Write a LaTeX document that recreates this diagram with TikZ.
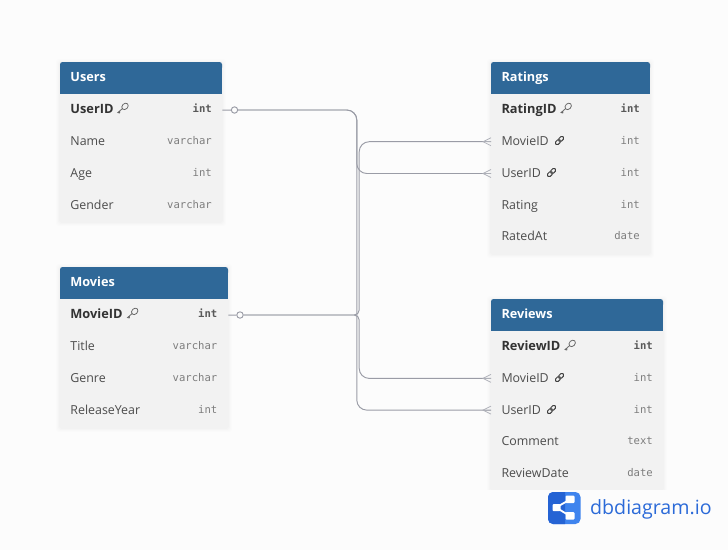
\documentclass[tikz,border=0pt]{standalone}
\usepackage{fontspec}
\setmainfont{Open Sans}
\newfontfamily\typefont{DejaVu Sans Mono}
\newfontfamily\logofont{Open Sans}
\usetikzlibrary{calc}
\definecolor{pagebg}{HTML}{FCFCFC}
\definecolor{headblue}{HTML}{2F6898}
\definecolor{bodygrey}{HTML}{F2F2F2}
\definecolor{linegrey}{HTML}{9A9CA6}
\definecolor{namegrey}{HTML}{4C4C4C}
\definecolor{typegrey}{HTML}{7D7D7D}
\definecolor{logodark}{HTML}{2563D4}
\definecolor{logolight}{HTML}{3F84EE}
\definecolor{logotext}{HTML}{2B6AD8}
\tikzset{
  x=1pt,y=-1pt,
  tablebody/.style={fill=bodygrey,draw=none},
  tablehead/.style={fill=headblue,draw=none},
  rowbox/.style={draw=none,inner sep=0pt,minimum height=31.8pt,anchor=north west},
  headtext/.style={font=\fontsize{12.7}{14}\selectfont\bfseries,text=white,anchor=base west,inner sep=0pt},
  coltext/.style={font=\fontsize{12.4}{14}\selectfont,text=namegrey,anchor=base west,inner sep=0pt},
  pktext/.style={font=\fontsize{12.8}{14}\selectfont\bfseries,text=black!80,anchor=base west,inner sep=0pt},
  typetext/.style={font=\fontsize{10.6}{14}\selectfont\typefont,text=typegrey,anchor=base east,inner sep=0pt},
  pktype/.style={font=\fontsize{10.6}{14}\selectfont\typefont\bfseries,text=black!65,anchor=base east,inner sep=0pt},
  rel/.style={draw=linegrey,line width=0.95pt,rounded corners=10pt},
  relflat/.style={draw=linegrey,line width=0.95pt},
  onemark/.style={circle,draw=linegrey,fill=pagebg,line width=0.95pt,minimum size=6.4pt,inner sep=0pt},
  crow/.style={draw=linegrey!80,line width=0.75pt},
  keyicon/.style={draw=black!60,line width=0.75pt},
  linkicon/.style={draw=black!75,line width=1pt},
}
\newcommand{\tablecard}[5]{%
  \foreach \d/\o in {4/0.006,3/0.008,2/0.010,1/0.012}{%
    \fill[black,opacity=\o,rounded corners=3pt] (#2-\d,#3-\d+1) rectangle (#4+\d,#5+\d+1);}
  \fill[tablebody,rounded corners=2.5pt] (#2,#3) rectangle (#4,#5);
  \fill[tablehead,rounded corners=2.5pt] (#2,#3) rectangle (#4,#3+8);
  \fill[tablehead] (#2,#3+4) rectangle (#4,#3+31.5);
}
\newcommand{\keyglyph}[2]{%
  \begin{scope}[shift={(#1,#2)}]
    \draw[keyicon,rotate around={45:(2.2,-1.6)}] (2.2,-1.6) ellipse (3.6 and 2.8);
    \draw[keyicon] (-0.2,0.4) -- (-5,4.6) -- (-3.2,5) -- (-2.9,3.6);
  \end{scope}}
\newcommand{\linkglyph}[2]{%
  \begin{scope}[shift={(#1,#2)}]
    \draw[linkicon,rotate=45,rounded corners=1.4pt] (-0.6,-1.8) rectangle (5,1.8);
    \draw[linkicon,rotate=45,rounded corners=1.4pt] (-5,-1.8) rectangle (0.6,1.8);
  \end{scope}}
\newcommand{\crowfoot}[1]{%
  \draw[crow] (#1.west) -- ++(-8,0);
  \draw[crow] ($(#1.west)+(0,-4)$) -- ($(#1.west)+(-8,0)$) -- ($(#1.west)+(0,4)$);
}
\begin{document}
\begin{tikzpicture}
\useasboundingbox (0,0) rectangle (728,550);
\fill[pagebg] (0,0) rectangle (728,550);

\coordinate (busA) at (356.8,0);
\coordinate (busB) at (359.2,0);

\tablecard{users}{60}{62}{222}{221}
\tablecard{ratings}{491}{62}{650}{253}
\tablecard{movies}{60}{267}{228}{427}
\tablecard{reviews}{491}{299}{663}{489}
\fill[pagebg] (480,489.5) rectangle (675,500);

\node[rowbox,minimum width=162pt] (uUserID) at (60,94) {};
\node[rowbox,minimum width=159pt] (rRatingID) at (491,94) {};
\node[rowbox,minimum width=159pt] (rMovieID) at (491,125.6) {};
\node[rowbox,minimum width=159pt] (rUserID) at (491,157.4) {};
\node[rowbox,minimum width=168pt] (mMovieID) at (60,299) {};
\node[rowbox,minimum width=172pt] (vReviewID) at (491,331) {};
\node[rowbox,minimum width=172pt] (vMovieID) at (491,362.3) {};
\node[rowbox,minimum width=172pt] (vUserID) at (491,394) {};

\node[onemark] (uOne) at (234.5,110) {};
\node[onemark] (mOne) at (240,315) {};
\draw[relflat] (uUserID.east) -- (uOne);
\draw[relflat] (mMovieID.east) -- (mOne);
\draw[rel] (uOne) -- (uOne -| busA) -- (rUserID.west -| busA) -- (rUserID.west);
\draw[rel] (uOne) -- (uOne -| busA) -- (vUserID.west -| busA) -- (vUserID.west);
\draw[rel] (mOne) [rounded corners=5pt] -- (mOne -| busB) [rounded corners=10pt] -- (rMovieID.west -| busB) -- (rMovieID.west);
\draw[rel] (mOne) [rounded corners=5pt] -- (mOne -| busB) [rounded corners=10pt] -- (vMovieID.west -| busB) -- (vMovieID.west);
\crowfoot{rMovieID}
\crowfoot{rUserID}
\crowfoot{vMovieID}
\crowfoot{vUserID}

% Users
\node[headtext] (tUsers) at (70.2,81) {Users};
\node[pktext] (cUserID) at (70.2,113) {UserID};
\keyglyph{122.8}{108}
\node[pktype] (yUserID) at (212,112.7) {int};
\node[coltext] (cUName) at (70.2,145) {Name};
\node[typetext] (yUName) at (212,144.7) {varchar};
\node[coltext] (cUAge) at (70.2,177) {Age};
\node[typetext] (yUAge) at (212,176.7) {int};
\node[coltext] (cUGender) at (70.2,209) {Gender};
\node[typetext] (yUGender) at (212,208.7) {varchar};

% Movies
\node[headtext] (tMovies) at (70.2,286) {Movies};
\node[pktext] (cMMovieID) at (70.2,318) {MovieID};
\keyglyph{132.5}{313}
\node[pktype] (yMMovieID) at (217.5,317.7) {int};
\node[coltext] (cMTitle) at (70.2,350) {Title};
\node[typetext] (yMTitle) at (217.5,349.7) {varchar};
\node[coltext] (cMGenre) at (70.2,382) {Genre};
\node[typetext] (yMGenre) at (217.5,381.7) {varchar};
\node[coltext] (cMYear) at (70.2,414) {ReleaseYear};
\node[typetext] (yMYear) at (217.5,413.7) {int};

% Ratings
\node[headtext] (tRatings) at (501.3,81) {Ratings};
\node[pktext] (cRRatingID) at (501.3,113) {RatingID};
\keyglyph{566}{108}
\node[pktype] (yRRatingID) at (640,112.7) {int};
\node[coltext] (cRMovieID) at (501.3,145) {MovieID};
\linkglyph{559.5}{140.5}
\node[typetext] (yRMovieID) at (640,144.7) {int};
\node[coltext] (cRUserID) at (501.3,177) {UserID};
\linkglyph{551.5}{172.5}
\node[typetext] (yRUserID) at (640,176.7) {int};
\node[coltext] (cRRating) at (501.3,209) {Rating};
\node[typetext] (yRRating) at (640,208.7) {int};
\node[coltext] (cRRatedAt) at (501.3,240) {RatedAt};
\node[typetext] (yRRatedAt) at (640,239.7) {date};

% Reviews
\node[headtext] (tReviews) at (501.3,318) {Reviews};
\node[pktext] (cVReviewID) at (501.3,350) {ReviewID};
\keyglyph{570}{345}
\node[pktype] (yVReviewID) at (653,349.7) {int};
\node[coltext] (cVMovieID) at (501.3,382) {MovieID};
\linkglyph{559.5}{377.5}
\node[typetext] (yVMovieID) at (653,381.7) {int};
\node[coltext] (cVUserID) at (501.3,414) {UserID};
\linkglyph{551.5}{409.5}
\node[typetext] (yVUserID) at (653,413.7) {int};
\node[coltext] (cVComment) at (501.3,445) {Comment};
\node[typetext] (yVComment) at (653,444.7) {text};
\node[coltext] (cVDate) at (501.3,477) {ReviewDate};
\node[typetext] (yVDate) at (653,476.7) {date};

% logo
\fill[logolight,rounded corners=5pt] (548,492) rectangle (580.5,524);
\begin{scope}
  \clip (548,492) rectangle (565,524);
  \fill[logodark,rounded corners=5pt] (548,492) rectangle (580.5,524);
\end{scope}
\draw[white,line width=1.8pt] (556,507.5) -- (570,499.5) (556,507.5) -- (570,516);
\fill[white,rounded corners=1pt] (565.5,495.5) rectangle (574.5,503);
\fill[white,rounded corners=1pt] (565.5,512) rectangle (574.5,519.5);
\fill[white,rounded corners=1pt] (552.5,504) rectangle (560.5,511);
\node[font=\fontsize{19.6}{24}\selectfont\logofont,text=logotext,anchor=base west,inner sep=0pt] (logoText) at (590,514.5) {dbdiagram.io};
\end{tikzpicture}
\end{document}
